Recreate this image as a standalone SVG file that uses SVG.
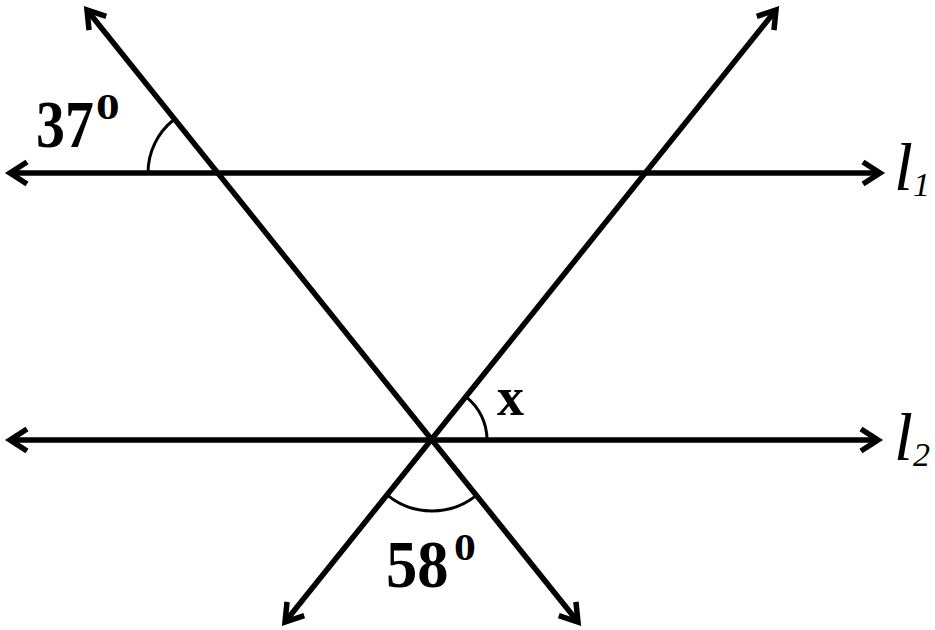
<svg xmlns="http://www.w3.org/2000/svg" width="935" height="630" viewBox="0 0 935 630">
  <style>
    .ln { stroke: #000; stroke-width: 5.5; fill: none; marker-start: url(#ah); marker-end: url(#ah); }
    .arc { stroke: #000; stroke-width: 3; fill: none; }
    .num { font-family: "Liberation Serif", "Times New Roman", serif; font-weight: bold; fill: #000; }
    .lab { font-family: "Liberation Serif", "Times New Roman", serif; font-style: italic; fill: #000; }
  </style>
  <defs>
    <marker id="ah" markerUnits="userSpaceOnUse" markerWidth="40" markerHeight="40" viewBox="-25 -20 30 40" refX="0" refY="0" orient="auto-start-reverse">
      <path d="M-17,-11 L0,0 L-17,11" stroke="#000" stroke-width="5.5" fill="none" stroke-linejoin="miter"/>
    </marker>
  </defs>
  <rect width="935" height="630" fill="#fff"/>
  <g id="lines">
    <line id="l1" class="ln" x1="10" y1="173" x2="880" y2="173"/>
    <line id="l2" class="ln" x1="10" y1="440" x2="878" y2="440"/>
    <line id="tA" class="ln" x1="87" y1="10" x2="578" y2="622"/>
    <line id="tB" class="ln" x1="285" y1="622" x2="776" y2="10"/>
  </g>
  <g id="arcs">
    <path class="arc" d="M148,173 A68,68 0 0 1 173.4,120"/>
    <path class="arc" d="M487,440 A55,55 0 0 0 466.4,397.1"/>
    <path class="arc" d="M387.6,495.4 A71,71 0 0 0 476.4,495.4"/>
  </g>
  <g id="labels">
    <text class="num" transform="translate(36,147) scale(0.85,1)" font-size="68">37</text>
    <text class="num" transform="translate(96,119) scale(1.35,1)" font-size="35">0</text>
    <text class="num" transform="translate(386,587) scale(0.92,1)" font-size="68">58</text>
    <text class="num" transform="translate(454,560) scale(1.15,1)" font-size="38">0</text>
    <text class="num" x="497" y="415" font-size="54">x</text>
    <text class="lab" x="894" y="190" font-size="68">l</text>
    <text class="lab" x="913" y="196" font-size="34">1</text>
    <text class="lab" x="894" y="460" font-size="68">l</text>
    <text class="lab" x="913" y="466" font-size="34">2</text>
  </g>
</svg>
